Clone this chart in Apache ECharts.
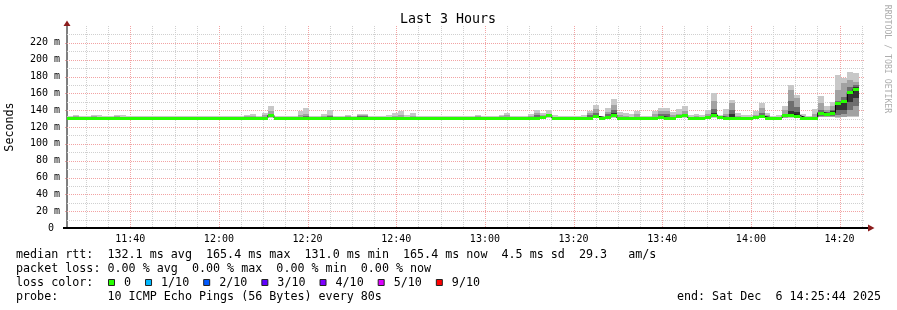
<!DOCTYPE html>
<html><head><meta charset="utf-8">
<script src="https://cdn.jsdelivr.net/npm/echarts@6/dist/echarts.min.js"></script>
<style>html,body{margin:0;padding:0;background:#fff}#c{width:897px;height:310px}</style>
</head><body><div id="c"></div>
<script>
// ---- time frame (minutes since midnight) ----
const START_MIN = 11 * 60 + 25 + 44 / 60;   // 11:25:44
const SPAN_MIN = 180;                        // Last 3 Hours
const STEP_MIN = 80 / 60;                    // one probe every 80 s
const Y_MAX = 240;

const xTickLabels = ['11:40', '12:00', '12:20', '12:40', '13:00', '13:20', '13:40', '14:00', '14:20'];
const yTickValues = [0, 20, 40, 60, 80, 100, 120, 140, 160, 180, 200, 220];

// ---- median rtt (ms), one value per 80 s step ----
const median = [
  131.2,131.2,131.2,131.2,131.2,131.2,131.2,131.2,131.2,131.2,
  131.2,131.2,131.2,131.2,131.2,131.2,131.2,131.2,131.2,131.2,
  131.2,131.2,131.2,131.2,131.2,131.2,131.2,131.2,131.2,131.2,
  131.2,131.2,131.2,131.2,134.0,131.2,131.2,131.2,131.2,131.2,
  131.2,131.2,131.2,131.2,131.2,131.2,131.2,131.2,131.2,131.2,
  131.2,131.2,131.2,131.2,131.2,131.2,131.2,131.2,131.2,131.2,
  131.2,131.0,131.2,131.2,131.2,131.2,131.2,131.2,131.2,131.2,
  131.2,131.2,131.2,131.2,131.2,131.2,131.2,131.2,131.2,131.2,
  132.0,134.0,131.2,131.2,131.2,131.2,131.2,131.2,131.2,132.5,
  131.2,132.0,134.3,131.2,131.2,131.2,131.2,131.2,131.2,131.2,
  132.0,131.2,131.2,132.5,133.7,131.2,131.2,131.2,132.0,134.5,
  132.0,131.2,131.2,131.2,131.2,131.2,132.0,132.5,131.2,131.2,
  131.2,134.0,134.5,133.5,131.2,131.2,131.2,137.0,135.7,137.0,
  149.0,150.4,161.0,165.4
];
// ---- fastest ping of each step (ms) ----
const pingMin = [
  130.6,130.6,130.6,130.6,130.6,130.6,130.6,130.6,130.6,130.6,
  130.6,130.6,130.6,130.6,130.6,130.6,130.6,130.6,130.6,130.6,
  130.6,130.6,130.6,130.6,130.6,130.6,130.6,130.6,130.6,130.6,
  130.6,130.6,130.6,130.6,130.6,130.6,130.6,130.6,130.6,130.6,
  130.6,130.6,130.6,130.6,130.6,130.6,130.6,130.6,130.6,130.6,
  130.6,130.6,130.6,130.6,130.6,130.6,130.6,130.6,130.6,130.6,
  130.6,130.5,130.6,130.6,130.6,130.6,130.6,130.6,130.6,130.6,
  130.6,130.6,130.6,130.6,130.6,130.6,130.6,130.6,130.6,130.6,
  130.6,130.6,130.6,130.6,130.6,130.6,130.6,130.6,130.6,130.6,
  130.6,130.6,130.6,130.6,130.6,130.6,130.6,130.6,130.6,130.6,
  130.6,130.6,130.6,130.6,130.6,130.6,130.6,130.6,130.6,130.6,
  130.6,130.6,130.6,130.6,130.6,130.6,130.6,130.6,130.6,130.6,
  130.6,130.6,130.8,130.7,130.6,130.6,130.6,131.5,131.5,131.8,
  130.8,131.5,131.8,131.8
];
// ---- slowest ping of each step (ms) ----
const pingMax = [
  133.3,133.8,133.5,133.3,134.2,134.2,133.3,133.6,134.2,134.2,
  133.3,133.3,133.3,133.3,133.3,133.3,133.5,133.3,133.3,133.3,
  133.3,133.5,133.3,133.3,133.3,133.3,133.3,133.3,133.3,133.6,
  134.6,136.0,133.3,137.0,145.0,133.3,133.3,133.3,133.3,139.0,
  142.5,133.3,133.3,135.7,140.5,133.6,133.6,134.0,133.6,135.0,
  135.0,133.6,133.3,133.3,134.2,136.5,138.5,134.2,137.0,133.3,
  133.3,133.3,133.3,133.6,133.6,133.3,133.3,133.3,133.6,134.6,
  133.3,133.3,133.3,134.6,137.0,133.3,133.3,133.3,135.7,140.5,
  137.0,139.7,134.6,133.3,133.3,133.6,133.3,133.8,139.5,146.4,
  133.6,142.5,153.6,137.7,136.5,135.2,139.0,133.6,133.6,138.5,
  142.5,142.5,137.7,141.5,144.4,134.6,135.7,134.2,140.2,160.3,
  134.8,141.3,152.4,136.5,134.2,134.2,139.3,148.0,136.7,133.6,
  134.6,145.2,170.0,158.5,135.5,133.3,141.0,157.3,144.4,150.0,
  182.0,178.0,185.0,184.0
];
// ---- denser smoke bands: [step index, low ms, high ms] ----
const smokeMid = [
  [1,131.0,132.6],[4,131.0,132.8],[8,131.0,132.8],[30,131.0,133.0],[31,131.0,133.5],
  [33,131.0,134.0],[34,131.5,139.0],[39,131.0,134.0],[40,131.0,135.0],[43,131.0,133.0],[44,131.0,134.0],
  [47,131.0,133.5],[49,131.2,134.5],[50,131.2,134.5],[55,131.0,133.0],[56,131.0,134.0],[58,131.0,133.5],
  [69,131.0,133.0],[73,131.0,133.0],[74,131.0,134.0],[78,131.0,133.0],[79,131.0,136.5],[80,131.0,134.0],[81,131.5,136.0],
  [88,131.0,136.5],[89,131.0,141.7],[91,131.0,138.0],[92,131.5,146.4],[93,131.0,134.0],[94,131.0,133.5],[96,131.0,135.0],
  [99,131.0,135.0],[100,131.0,138.5],[101,131.0,138.5],[102,131.0,134.0],[103,131.0,136.0],[104,131.5,139.0],
  [106,131.0,133.5],[108,131.0,135.0],[109,131.5,150.4],[111,131.0,136.0],[112,131.0,148.4],[113,131.0,133.5],
  [116,131.0,134.5],[117,131.0,142.5],[118,131.0,134.0],[121,131.0,140.0],[122,131.5,164.0],[123,131.0,154.4],
  [126,131.0,135.0],[127,132.0,148.4],[128,132.0,140.0],[129,132.0,145.0],
  [130,132.0,164.0],[131,132.0,172.0],[132,133.0,176.0],[133,133.5,174.0]
];
const smokeDark = [
  [34,132.0,136.0],[40,131.2,133.0],[44,131.2,133.0],[49,131.5,133.5],[50,131.5,133.5],
  [79,131.2,134.0],[81,132.0,134.5],[88,131.2,134.0],[89,131.2,137.0],[91,131.2,135.0],[92,132.0,140.5],
  [100,131.2,135.0],[101,131.2,135.0],[103,131.2,134.0],[104,132.0,135.5],[109,132.0,141.0],[112,131.5,140.5],
  [117,131.5,136.5],[121,131.5,136.0],[122,132.0,150.4],[123,131.5,144.0],[127,133.0,140.5],[128,133.0,138.0],
  [129,133.0,140.0],[130,134.0,150.4],[131,136.0,156.0],[132,140.0,168.0],[133,145.0,170.0]
];
const smokeCore = [
  [92,132.5,137.0],[109,132.5,137.0],[112,132.0,136.0],[122,132.5,138.5],[123,132.0,138.0],
  [127,134.0,138.0],[128,134.0,137.0],[129,134.0,139.0],[130,140.0,150.0],
  [131,140.0,152.0],[132,150.0,163.0],[133,155.0,167.0]
];
const lossLegend = [['0','#26ff00'],['1/10','#00b8ff'],['2/10','#0059ff'],['3/10','#5e00ff'],['4/10','#7e00ff'],['5/10','#dd00ff'],['9/10','#ff0000']];
const lineRtt = 'median rtt:  132.1 ms avg  165.4 ms max  131.0 ms min  165.4 ms now  4.5 ms sd  29.3   am/s';
const lineLoss = 'packet loss: 0.00 % avg  0.00 % max  0.00 % min  0.00 % now';
const lineProbe = 'probe:       10 ICMP Echo Pings (56 Bytes) every 80s';
const lineEnd = 'end: Sat Dec  6 14:25:44 2025';

// ---- helpers ----
const toMin = s => { const p = s.split(':'); return (+p[0]) * 60 + (+p[1]); };
const fmtMin = v => { const h = Math.floor(v / 60), m = Math.round(v - h * 60); return (h < 10 ? '0' : '') + h + ':' + (m < 10 ? '0' : '') + m; };
const MONO = '"DejaVu Sans Mono", "Liberation Mono", monospace';
const C_MAJOR = '#f2a3a3', C_MINOR = '#d0d0d0';

const stepTimes = median.map((_, i) => START_MIN + i * STEP_MIN);
const vGrid = [];
for (let t = Math.ceil(START_MIN / 5) * 5; t <= START_MIN + SPAN_MIN; t += 5) vGrid.push([t, t % 20 === 0 ? 1 : 0]);
const hGrid = [];
for (let v = 10; v < Y_MAX; v += 10) hGrid.push([START_MIN, v, v % 20 === 0 ? 1 : 0]);

const bandMap = arr => { const m = {}; arr.forEach(b => { m[b[0]] = b; }); return m; };
const midMap = bandMap(smokeMid), darkMap = bandMap(smokeDark), coreMap = bandMap(smokeCore);

function renderVGrid(params, api) {
  const t = api.value(0), major = api.value(1);
  const top = api.coord([t, Y_MAX]), bot = api.coord([t, 0]);
  const x = Math.round(top[0]) + 0.5;
  return { type: 'line', silent: true,
    shape: { x1: x, y1: Math.round(top[1]), x2: x, y2: Math.round(bot[1]) },
    style: { stroke: major ? C_MAJOR : C_MINOR, lineWidth: 1, lineDash: [1, 1] } };
}
function renderHGrid(params, api) {
  const v = api.value(1), major = api.value(2);
  const l = api.coord([START_MIN, v]), r = api.coord([START_MIN + SPAN_MIN, v]);
  const y = Math.round(l[1]) + 0.5;
  return { type: 'line', silent: true,
    shape: { x1: Math.round(l[0]) - (major ? 2 : 0), y1: y, x2: Math.round(r[0]), y2: y },
    style: { stroke: major ? C_MAJOR : C_MINOR, lineWidth: 1, lineDash: [1, 1] } };
}
function renderSmoke(params, api) {
  const i = params.dataIndex;
  const t = api.value(0);
  const x0 = Math.round(api.coord([t, 0])[0]);
  const x1 = Math.round(api.coord([t + STEP_MIN, 0])[0]);
  const children = [];
  const band = (lo, hi, color) => {
    const y0 = Math.round(api.coord([t, hi])[1]);
    const y1 = Math.round(api.coord([t, lo])[1]);
    children.push({ type: 'rect', shape: { x: x0, y: y0, width: x1 - x0, height: Math.max(1, y1 - y0) }, style: { fill: color } });
  };
  band(api.value(1), api.value(2), '#c8c8c8');
  if (midMap[i]) band(midMap[i][1], midMap[i][2], '#a2a2a2');
  if (darkMap[i]) band(darkMap[i][1], darkMap[i][2], '#6e6e6e');
  if (coreMap[i]) band(coreMap[i][1], coreMap[i][2], '#333333');
  return { type: 'group', children };
}
function renderMedian(params, api) {
  const t = api.value(0), v = api.value(1);
  const x0 = Math.round(api.coord([t, v])[0]);
  const x1 = Math.round(api.coord([t + STEP_MIN, v])[0]);
  const y = Math.round(api.coord([t, v])[1]);
  return { type: 'rect', shape: { x: x0, y: y - 1, width: x1 - x0, height: 3 }, style: { fill: lossLegend[0][1] } };
}

const smokeData = stepTimes.map((t, i) => [t, pingMin[i], pingMax[i]]);
const medData = stepTimes.map((t, i) => [t, median[i]]);
const medStep = medData.concat([[START_MIN + median.length * STEP_MIN, median[median.length - 1]]]);

// ---- texts / legend graphics ----
const txt = (x, y, text, extra) => Object.assign({ type: 'text', x, y, silent: true,
  style: Object.assign({ text, font: '11.7px ' + MONO, fill: '#000', textVerticalAlign: 'middle', verticalAlign: 'middle' }, extra || {}) });
const graphics = [
  // axes
  { type: 'line', silent: true, shape: { x1: 67, y1: 228, x2: 67, y2: 25 }, style: { stroke: '#000', lineWidth: 1 } },
  { type: 'line', silent: true, shape: { x1: 63, y1: 228, x2: 868, y2: 228 }, style: { stroke: '#000', lineWidth: 2 } },
  { type: 'polygon', silent: true, shape: { points: [[67, 20.5], [63.5, 26], [70.5, 26]] }, style: { fill: '#8b1c1c' } },
  { type: 'polygon', silent: true, shape: { points: [[874.5, 228], [868, 224.5], [868, 231.5]] }, style: { fill: '#8b1c1c' } },
  // title, axis title, watermark
  txt(448, 19.5, 'Last 3 Hours', { font: '13.3px ' + MONO, align: 'center', textAlign: 'center' }),
  Object.assign(txt(10, 127, 'Seconds', { align: 'center', textAlign: 'center' }), { rotation: Math.PI / 2 }),
  Object.assign(txt(887, 59, 'RRDTOOL / TOBI OETIKER', { font: '8.2px ' + MONO, fill: '#adadad', align: 'center', textAlign: 'center' }), { rotation: -Math.PI / 2 }),
  // legend
  txt(16, 254.5, lineRtt),
  txt(16, 268.5, lineLoss),
  txt(16, 282.5, 'loss color:'),
  txt(16, 296.7, lineProbe),
  txt(881, 296.7, lineEnd, { align: 'right', textAlign: 'right' })
];
let sx = 108;
lossLegend.forEach(([label, color]) => {
  graphics.push({ type: 'rect', silent: true, shape: { x: sx + 0.5, y: 279.5, width: 6, height: 6 }, style: { fill: color, stroke: '#222', lineWidth: 1 } });
  graphics.push(txt(sx + 16, 282.5, label));
  sx = sx + 16 + label.length * 7.04 + 14;
});

const chart = echarts.init(document.getElementById('c'), null, { renderer: 'canvas' });
chart.setOption({
  animation: false,
  backgroundColor: '#ffffff',
  grid: { left: 67, right: 32, top: 26, bottom: 82, containLabel: false },
  xAxis: {
    type: 'value', min: START_MIN, max: START_MIN + SPAN_MIN,
    axisLine: { show: false }, axisTick: { show: false }, splitLine: { show: false },
    axisLabel: { customValues: xTickLabels.map(toMin), formatter: v => fmtMin(v), fontFamily: MONO, fontSize: 10, color: '#000', margin: 6 }
  },
  yAxis: {
    type: 'value', min: 0, max: Y_MAX,
    axisLine: { show: false }, axisTick: { show: false }, splitLine: { show: false },
    axisLabel: { customValues: yTickValues, formatter: v => (v === 0 ? '0 ' : v + ' m'), fontFamily: MONO, fontSize: 10, color: '#000', margin: 7 }
  },
  series: [
    { type: 'custom', name: 'vgrid', renderItem: renderVGrid, data: vGrid, encode: { x: 0, y: 1 }, z: 1, silent: true },
    { type: 'custom', name: 'hgrid', renderItem: renderHGrid, data: hGrid, encode: { x: 0, y: 1 }, z: 1, silent: true },
    { type: 'custom', name: 'smoke', renderItem: renderSmoke, data: smokeData, encode: { x: 0, y: [1, 2] }, z: 2, silent: true },
    { type: 'line', name: 'median outline', data: medStep, step: 'end', symbol: 'none', lineStyle: { color: '#000', width: 1 }, z: 3, silent: true },
    { type: 'custom', name: 'median', renderItem: renderMedian, data: medData, encode: { x: 0, y: 1 }, z: 4, silent: true }
  ],
  graphic: graphics
});
</script></body></html>
